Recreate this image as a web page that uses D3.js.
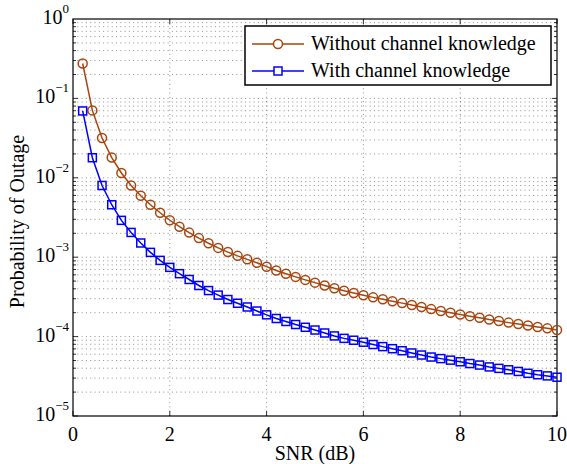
<!DOCTYPE html>
<html>
<head>
<meta charset="utf-8">
<script src="https://cdn.jsdelivr.net/npm/d3@7"></script>
<style>
  body { margin: 0; background: #fff; }
</style>
</head>
<body>
<div id="chart"></div>
<script>
// SNR values (dB), markers every 0.2 dB
var snr = [0.2, 0.4, 0.6, 0.8, 1.0, 1.2, 1.4, 1.6, 1.8, 2.0,
           2.2, 2.4, 2.6, 2.8, 3.0, 3.2, 3.4, 3.6, 3.8, 4.0,
           4.2, 4.4, 4.6, 4.8, 5.0, 5.2, 5.4, 5.6, 5.8, 6.0,
           6.2, 6.4, 6.6, 6.8, 7.0, 7.2, 7.4, 7.6, 7.8, 8.0,
           8.2, 8.4, 8.6, 8.8, 9.0, 9.2, 9.4, 9.6, 9.8, 10.0];

// outage probability without channel knowledge
var withoutCK = [0.275, 0.0706, 0.0317, 0.0180, 0.0115, 0.0080, 0.00595, 0.00458, 0.00363, 0.00292,
                 0.00242, 0.00204, 0.00174, 0.00150, 0.00131, 0.00116, 0.00104, 0.00094, 0.00085, 0.00076,
                 0.00068, 0.00062, 0.000565, 0.000518, 0.000478, 0.000440, 0.000406, 0.000378, 0.000354, 0.000332,
                 0.000312, 0.000295, 0.000279, 0.000264, 0.000250, 0.000236, 0.000222, 0.000210, 0.000200, 0.000190,
                 0.000181, 0.000173, 0.000164, 0.000157, 0.000150, 0.000144, 0.000138, 0.000132, 0.000127, 0.000121];

// outage probability with channel knowledge
var withCK = [0.0695, 0.0179, 0.0080, 0.00458, 0.00291, 0.00205, 0.00151, 0.00115, 0.000912, 0.000745,
              0.000620, 0.000524, 0.000440, 0.000380, 0.000333, 0.000293, 0.000263, 0.000236, 0.000210, 0.000188,
              0.000169, 0.000155, 0.000142, 0.000131, 0.000121, 0.000111, 0.000102, 0.0000950, 0.0000900, 0.0000850,
              0.0000795, 0.0000748, 0.0000704, 0.0000664, 0.0000622, 0.0000586, 0.0000553, 0.0000528, 0.0000505, 0.0000482,
              0.0000458, 0.0000438, 0.0000415, 0.0000398, 0.0000382, 0.0000364, 0.0000345, 0.0000331, 0.0000320, 0.0000308];

var xTicks = [0, 2, 4, 6, 8, 10];
var yExponents = [0, -1, -2, -3, -4, -5];
var seriesNames = ["Without channel knowledge", "With channel knowledge"];

var brown = "#a8450e";
var blue = "#0000ff";

const W = 567, H = 464;
const margin = { left: 73, right: 10, top: 19, bottom: 48 };
const serif = "'Liberation Serif'";

const svg = d3.select("#chart").append("svg")
   .attr("width", W)
   .attr("height", H);

const x = d3.scaleLinear()
   .domain([0, 10])
   .range([margin.left, W - margin.right]);

const y = d3.scaleLog()
   .domain([1e-5, 1])
   .range([H - margin.bottom, margin.top]);

// grid: every log tick horizontally, major x ticks vertically
var minorY = [];
for (var e = -5; e < 0; e++) {
   for (var m = 1; m <= 9; m++) {
      minorY.push(m * Math.pow(10, e));
   }
}

svg.append("g").selectAll("line")
   .data(minorY.filter(v => v > 1e-5))
   .join("line")
   .attr("x1", x(0)).attr("x2", x(10))
   .attr("y1", d => y(d)).attr("y2", d => y(d))
   .attr("stroke", "#444")
   .attr("stroke-width", 0.6)
   .attr("stroke-dasharray", "1,3.3");

svg.append("g").selectAll("line")
   .data(xTicks.slice(1, -1))
   .join("line")
   .attr("x1", d => x(d)).attr("x2", d => x(d))
   .attr("y1", y(1e-5)).attr("y2", y(1))
   .attr("stroke", "#444")
   .attr("stroke-width", 0.6)
   .attr("stroke-dasharray", "1,3.3");

// tick marks on all four sides, pointing inward
const tickG = svg.append("g").attr("stroke", "#000").attr("stroke-width", 0.8);
minorY.forEach(function (v) {
   var len = (Math.abs(Math.log10(v) % 1) < 1e-9) ? 5 : 3;
   tickG.append("line").attr("x1", x(0)).attr("x2", x(0) + len).attr("y1", y(v)).attr("y2", y(v));
   tickG.append("line").attr("x1", x(10)).attr("x2", x(10) - len).attr("y1", y(v)).attr("y2", y(v));
});
xTicks.forEach(function (t) {
   tickG.append("line").attr("x1", x(t)).attr("x2", x(t)).attr("y1", y(1e-5)).attr("y2", y(1e-5) - 5);
   tickG.append("line").attr("x1", x(t)).attr("x2", x(t)).attr("y1", y(1)).attr("y2", y(1) + 5);
});

// box
svg.append("rect")
   .attr("x", x(0)).attr("y", y(1))
   .attr("width", x(10) - x(0))
   .attr("height", y(1e-5) - y(1))
   .attr("fill", "none")
   .attr("stroke", "#000")
   .attr("stroke-width", 1.2);

// x tick labels
svg.append("g").selectAll("text")
   .data(xTicks)
   .join("text")
   .attr("x", d => x(d))
   .attr("y", y(1e-5) + 25)
   .attr("text-anchor", "middle")
   .style("font-family", serif)
   .style("font-size", "20px")
   .text(d => d);

// y tick labels as 10^e
const yLab = svg.append("g").selectAll("text")
   .data(yExponents)
   .join("text")
   .attr("x", 69)
   .attr("y", d => y(Math.pow(10, d)) + 5)
   .attr("text-anchor", "end")
   .style("font-family", serif)
   .style("font-size", "20px");
yLab.append("tspan").text("10");
yLab.append("tspan")
   .attr("dy", -11)
   .style("font-size", "13px")
   .text(d => d === 0 ? "0" : "\u2212" + (-d));

// axis titles
svg.append("text")
   .attr("x", (x(0) + x(10)) / 2)
   .attr("y", 460)
   .attr("text-anchor", "middle")
   .style("font-family", serif)
   .style("font-size", "20px")
   .text("SNR (dB)");

svg.append("text")
   .attr("transform", "translate(24," + ((y(1) + y(1e-5)) / 2 + 4) + ") rotate(-90)")
   .attr("text-anchor", "middle")
   .style("font-family", serif)
   .style("font-size", "20px")
   .text("Probability of Outage");

// series
const line = d3.line()
   .x(d => x(d[0]))
   .y(d => y(d[1]));

var brownPts = snr.map((s, i) => [s, withoutCK[i]]);
var bluePts = snr.map((s, i) => [s, withCK[i]]);

svg.append("path")
   .datum(brownPts)
   .attr("d", line)
   .attr("fill", "none")
   .attr("stroke", brown)
   .attr("stroke-width", 1.5);

svg.append("g").selectAll("circle")
   .data(brownPts)
   .join("circle")
   .attr("cx", d => x(d[0]))
   .attr("cy", d => y(d[1]))
   .attr("r", 4.5)
   .attr("fill", "none")
   .attr("stroke", brown)
   .attr("stroke-width", 1.5);

svg.append("path")
   .datum(bluePts)
   .attr("d", line)
   .attr("fill", "none")
   .attr("stroke", blue)
   .attr("stroke-width", 1.5);

svg.append("g").selectAll("rect")
   .data(bluePts)
   .join("rect")
   .attr("x", d => x(d[0]) - 4)
   .attr("y", d => y(d[1]) - 4)
   .attr("width", 8)
   .attr("height", 8)
   .attr("fill", "none")
   .attr("stroke", blue)
   .attr("stroke-width", 1.5);

// legend
const lg = svg.append("g");
lg.append("rect")
   .attr("x", 245).attr("y", 26)
   .attr("width", 306).attr("height", 59)
   .attr("fill", "#fff")
   .attr("stroke", "#000")
   .attr("stroke-width", 1.5);

seriesNames.forEach(function (name, i) {
   var ly = 44 + i * 27;
   var col = i === 0 ? brown : blue;
   lg.append("line")
      .attr("x1", 252).attr("x2", 304)
      .attr("y1", ly).attr("y2", ly)
      .attr("stroke", col).attr("stroke-width", 1.5);
   if (i === 0) {
      lg.append("circle").attr("cx", 278).attr("cy", ly).attr("r", 4.5)
         .attr("fill", "#fff").attr("stroke", col).attr("stroke-width", 1.5);
   } else {
      lg.append("rect").attr("x", 274).attr("y", ly - 4).attr("width", 8).attr("height", 8)
         .attr("fill", "#fff").attr("stroke", col).attr("stroke-width", 1.5);
   }
   lg.append("text")
      .attr("x", 311)
      .attr("y", ly + 6)
      .style("font-family", serif)
      .style("font-size", "20px")
      .text(name);
});
</script>
</body>
</html>
